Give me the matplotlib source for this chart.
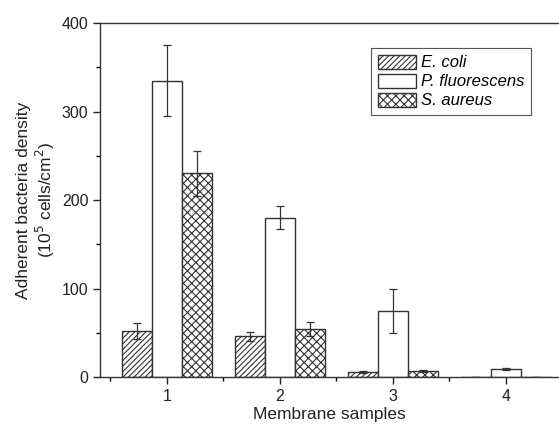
import matplotlib.pyplot as plt
import numpy as np

samples = [1, 2, 3, 4]
series = ['E. coli', 'P. fluorescens', 'S. aureus']
ecoli = [52, 46, 6, 0]
ecoli_err = [9, 5, 1, 0]
pfluor = [335, 180, 75, 9]
pfluor_err = [40, 13, 25, 1]
saureus = [230, 54, 7, 0]
saureus_err = [25, 8, 1, 0]

plt.rcParams['font.family'] = ['Liberation Sans', 'DejaVu Sans']
plt.rcParams['hatch.linewidth'] = 0.8

fig = plt.figure(figsize=(5.59, 4.26), dpi=100)
ax = fig.add_axes([0.179, 0.115, 0.821, 0.831])

x = np.array(samples)
w = 0.265
edge = '#333333'
ek = dict(ecolor=edge, elinewidth=0.9, capsize=3, capthick=0.9)

ax.bar(x - w, ecoli, w, yerr=ecoli_err, color='white', edgecolor=edge,
       hatch='//////', linewidth=1.0, label=series[0], error_kw=ek)
ax.bar(x, pfluor, w, yerr=pfluor_err, color='white', edgecolor=edge,
       linewidth=1.0, label=series[1], error_kw=ek)
ax.bar(x + w, saureus, w, yerr=saureus_err, color='white', edgecolor=edge,
       hatch='xxxx', linewidth=1.0, label=series[2], error_kw=ek)

ax.set_xlim(0.41, 4.47)
ax.set_ylim(0, 400)
ax.set_xticks(samples)
ax.set_xticks([0.5, 1.5, 2.5, 3.5], minor=True)
ax.set_yticks([0, 100, 200, 300, 400])
ax.set_yticks([50, 150, 250, 350], minor=True)
ax.tick_params(which='major', direction='out', length=5, width=1, labelsize=11.5, colors='#222222')
ax.tick_params(which='minor', direction='out', length=3, width=1)
ax.spines['right'].set_visible(False)
for s in ['left', 'top', 'bottom']:
    ax.spines[s].set_color('#333333')
    ax.spines[s].set_linewidth(1.0)

ax.set_xlabel('Membrane samples', fontsize=12.5, labelpad=2, color='#222222')
ax.set_ylabel('Adherent bacteria density\n(10$^5$ cells/cm$^2$)', fontsize=12.5,
              labelpad=3, color='#222222')

leg = ax.legend(loc='upper right', bbox_to_anchor=(0.939, 0.929), borderaxespad=0,
                fancybox=False, edgecolor='#555555', framealpha=1,
                prop={'style': 'italic', 'size': 12},
                handlelength=2.3, handleheight=0.9, labelspacing=0.2, borderpad=0.4,
                handletextpad=0.3)
leg.get_frame().set_linewidth(0.8)

fig.savefig('out.png', dpi=100)
